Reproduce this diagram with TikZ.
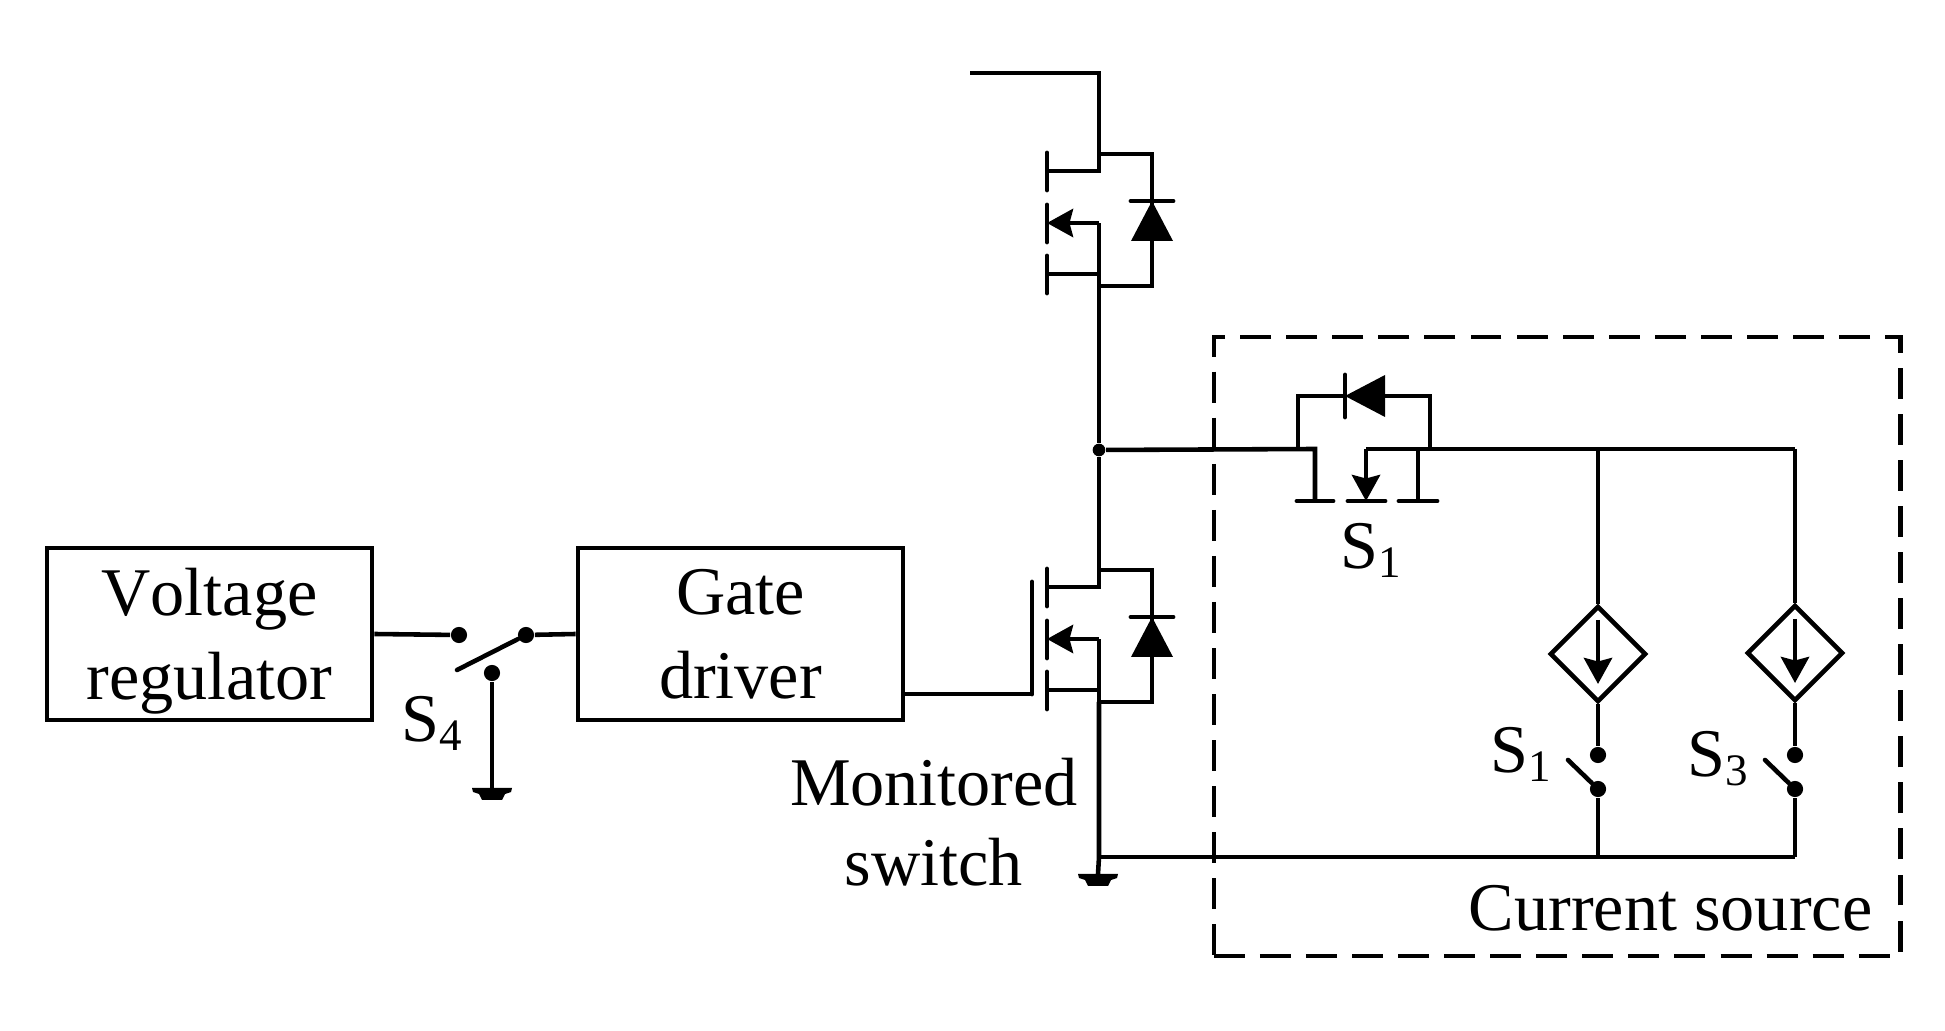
\documentclass[tikz,border=0pt]{standalone}
\usepackage{fontspec}
\setmainfont[Kerning=Off]{Liberation Serif}
\usetikzlibrary{arrows.meta,shapes.geometric}

\newcommand{\Sw}[1]{S\raisebox{-0.13em}{\fontsize{12.8pt}{14pt}\selectfont #1}}

\tikzset{
  wire/.style={line width=1.3pt,line join=miter},
  plate/.style={line width=1.4pt,line cap=round},
  curr/.style={wire,-{Stealth[length=7.4pt,width=8pt,inset=1pt]}},
  block/.style={draw,line width=1.3pt,minimum width=3.25cm,minimum height=1.72cm,inner sep=0pt,align=center,text depth=0pt,font=\fontsize{19.4pt}{23.9pt}\selectfont},
  lbl/.style={inner sep=0pt,anchor=base,font=\fontsize{19.4pt}{22.8pt}\selectfont},
  dot/.style={circle,fill,inner sep=0pt,minimum size=4.6pt},
  source/.style={diamond,draw,line width=1.3pt,inner sep=0pt,minimum size=0.96cm},
  pics/diode/.style={code={
    \draw[plate] (-21,0) -- (21,0);
    \fill[line join=round] (0,0) -- (21,40) -- (-21,40) -- cycle;
  }},
  pics/gnd/.style={code={
    \fill (-20,0) -- (20,0) -- (19,4) -- (13,6) -- (10,12) -- (-10,12) -- (-13,6) -- (-19,4) -- cycle;
  }},
  pics/mosfet/.style={code={
    \coordinate (-d) at (0,-17);
    \coordinate (-s) at (0,115);
    \draw[plate] (-52,-18) -- (-52,19);
    \draw[plate] (-52,34) -- (-52,71);
    \draw[plate] (-52,85) -- (-52,122);
    \draw[wire] (-52,0) -- (0,0) -- (-d) -- (53,-17) -- (53,115) -- (-s) -- (0,52);
    \draw[wire] (-52,103) -- (0,103);
    \draw[curr] (0,52) -- (-52,52);
    \path (53,30) pic {diode};
  }},
}

\begin{document}
\begin{tikzpicture}[x=0.01cm,y=-0.01cm]
  \useasboundingbox (0,0) rectangle (1945,1031);

  % current source frame
  \node[draw,line width=1.3pt,dash pattern=on 8.8pt off 4.3pt,minimum width=6.86cm,minimum height=6.19cm,inner sep=0pt] (csbox) at (1557,646.5) {};

  % control side
  \node[block] (reg) at (209.5,634) {Voltage\\regulator};
  \node[block] (drv) at (740.5,634) {Gate\\driver};
  \node[dot] (s4a) at (459,635) {};
  \node[dot] (s4b) at (526,635) {};
  \node[dot] (s4c) at (492,673) {};
  \coordinate (s4end) at (457,670);
  \coordinate (g4) at (492,788);
  \draw[wire] (reg.east) -- (s4a);
  \draw[wire] (s4b) -- (drv.west);
  \draw[wire,line cap=round] (s4b) -- (s4end);
  \draw[wire] (s4c) -- (g4);
  \path (g4) pic {gnd};
  \node[lbl,anchor=base west] (s4lab) at (401,742) {\Sw{4}};

  % half bridge
  \pic (q1) at (1099,171) {mosfet};
  \pic (q2) at (1099,587) {mosfet};
  \node[dot,minimum size=3.6pt] (mid) at (1099,450) {};
  \coordinate (vin) at (970,73);
  \coordinate (bus) at (1099,857);
  \coordinate (g0) at (1098,874);
  \draw[wire] (vin) -| (q1-d);
  \draw[wire] (q1-s) -- (mid) -- (q2-d);
  \draw[wire] (q2-s) -- (bus) -- (g0);
  \path (g0) pic {gnd};

  % gate
  \coordinate (gt) at (1032,582);
  \coordinate (gb) at (1032,694);
  \draw[wire] (gb) -- (gb -| drv.east);
  \draw[plate] (gt) -- (gb);
  \node[lbl,align=center] (mon) at (934,886) {Monitored\\switch};

  % series switch
  \coordinate (sl) at (1315,449);
  \coordinate (sc) at (1366,449);
  \coordinate (sr) at (1418,449);
  \coordinate (bl) at (1298,449);
  \coordinate (br) at (1430,449);
  \coordinate (right) at (1795,449);
  \coordinate (leg) at (1598,449);
  \draw[wire] (mid) -- (sl) -- (1315,501);
  \draw[wire] (sc) -- (right);
  \draw[curr] (sc) -- (1366,501);
  \draw[wire] (sr) -- (1418,501);
  \draw[plate] (1297,501) -- (1333,501);
  \draw[plate] (1348,501) -- (1385,501);
  \draw[plate] (1399,501) -- (1437,501);
  \draw[wire] (bl) |- (1345,396);
  \draw[wire] (br) |- (1384,396);
  \path (1345,396) pic[rotate=90] {diode};
  \node[lbl,anchor=base west] (s1lab) at (1340,569) {\Sw{1}};

  % current legs
  \node[source] (cs1) at (1598,654) {};
  \node[source] (cs3) at (1795,653) {};
  \node[dot] (s1a) at (1598,755) {};
  \node[dot] (s1b) at (1598,789) {};
  \node[dot] (s3a) at (1795,755) {};
  \node[dot] (s3b) at (1795,789) {};
  \coordinate (s1end) at (1568,760);
  \coordinate (s3end) at (1765,760);
  \coordinate (leg1) at (1598,857);
  \coordinate (leg3) at (1795,857);
  \draw[wire] (leg) -- (cs1.north);
  \draw[wire] (right) -- (cs3.north);
  \draw[curr] (1598,620) -- (1598,684);
  \draw[curr] (1795,619) -- (1795,683);
  \draw[wire] (cs1.south) -- (s1a);
  \draw[wire] (cs3.south) -- (s3a);
  \draw[wire,line cap=round] (s1b) -- (s1end);
  \draw[wire,line cap=round] (s3b) -- (s3end);
  \draw[wire] (s1b) -- (leg1);
  \draw[wire] (s3b) -- (leg3);
  \draw[wire] (bus) -- (leg3);
  \node[lbl,anchor=base west] (s2lab) at (1490,773) {\Sw{1}};
  \node[lbl,anchor=base west] (s3lab) at (1687,777) {\Sw{3}};
  \node[lbl,anchor=base east] (cslab) at (1873,930) {Current source};
\end{tikzpicture}
\end{document}
